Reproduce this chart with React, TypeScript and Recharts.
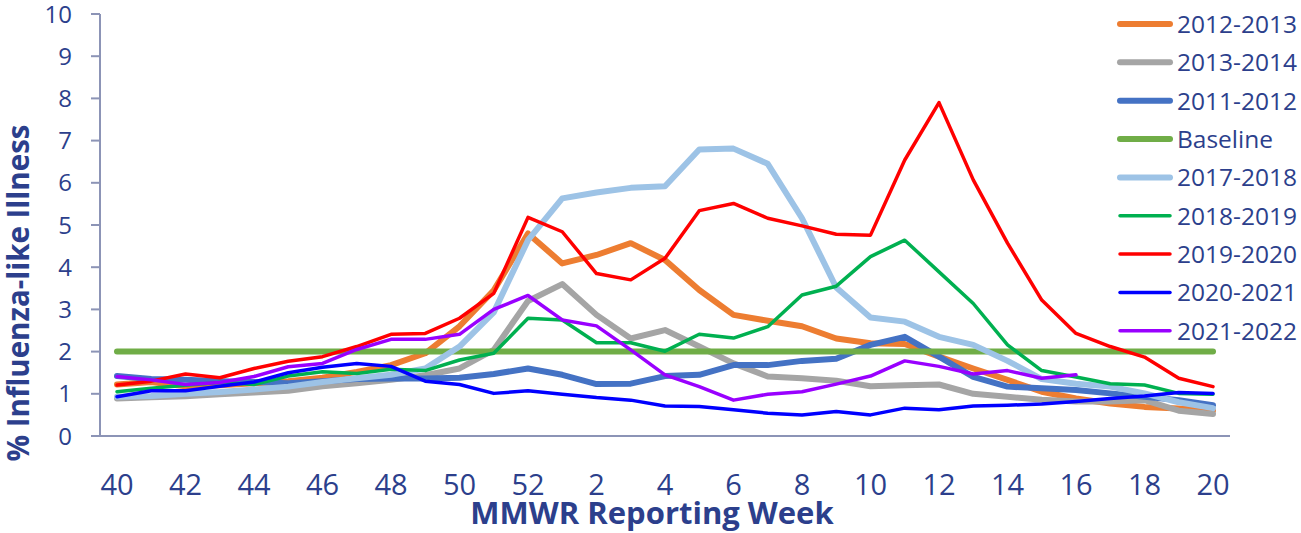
import React from 'react'
import { LineChart, Line, XAxis, YAxis, Label } from 'recharts'

const weeks = [
  '40', '41', '42', '43', '44', '45', '46', '47', '48', '49', '50', '51', '52',
  '1', '2', '3', '4', '5', '6', '7', '8', '9', '10', '11', '12', '13', '14', '15', '16', '17', '18', '19', '20',
]

const yTicks = [0, 1, 2, 3, 4, 5, 6, 7, 8, 9, 10]

const season2012_2013 = [1.22, 1.28, 1.18, 1.2, 1.25, 1.3, 1.38, 1.52, 1.68, 1.96, 2.6, 3.45, 4.8, 4.09, 4.29, 4.57, 4.17, 3.46, 2.87, 2.73, 2.6, 2.31, 2.2, 2.18, 1.88, 1.6, 1.33, 1.05, 0.89, 0.77, 0.69, 0.65, 0.6]
const season2013_2014 = [0.89, 0.92, 0.94, 0.99, 1.03, 1.07, 1.18, 1.25, 1.33, 1.44, 1.6, 2.04, 3.2, 3.6, 2.87, 2.31, 2.51, 2.12, 1.72, 1.41, 1.37, 1.31, 1.18, 1.2, 1.22, 1.0, 0.93, 0.86, 0.82, 0.82, 0.85, 0.6, 0.52]
const season2011_2012 = [1.42, 1.35, 1.33, 1.3, 1.28, 1.25, 1.3, 1.35, 1.36, 1.36, 1.38, 1.47, 1.6, 1.45, 1.23, 1.24, 1.42, 1.45, 1.68, 1.68, 1.78, 1.83, 2.16, 2.35, 1.88, 1.4, 1.17, 1.13, 1.09, 1.01, 0.93, 0.85, 0.73]
const baseline = [2, 2, 2, 2, 2, 2, 2, 2, 2, 2, 2, 2, 2, 2, 2, 2, 2, 2, 2, 2, 2, 2, 2, 2, 2, 2, 2, 2, 2, 2, 2, 2, 2]
const season2017_2018 = [0.93, 0.95, 1.0, 1.04, 1.1, 1.17, 1.28, 1.37, 1.45, 1.6, 2.12, 2.93, 4.64, 5.63, 5.77, 5.88, 5.92, 6.79, 6.81, 6.45, 5.16, 3.52, 2.81, 2.71, 2.35, 2.16, 1.78, 1.35, 1.24, 1.17, 1.01, 0.8, 0.66]
const season2018_2019 = [1.05, 1.13, 1.2, 1.27, 1.22, 1.42, 1.52, 1.48, 1.58, 1.55, 1.8, 1.96, 2.79, 2.75, 2.21, 2.21, 2.01, 2.41, 2.32, 2.59, 3.34, 3.55, 4.25, 4.64, 3.89, 3.14, 2.16, 1.55, 1.4, 1.24, 1.21, 1.01, 0.99]
const season2019_2020 = [1.21, 1.3, 1.47, 1.38, 1.6, 1.77, 1.88, 2.12, 2.41, 2.43, 2.79, 3.38, 5.18, 4.84, 3.85, 3.7, 4.21, 5.34, 5.51, 5.16, 4.98, 4.78, 4.76, 6.54, 7.9, 6.07, 4.57, 3.22, 2.43, 2.12, 1.87, 1.37, 1.17]
const season2020_2021 = [0.93, 1.07, 1.07, 1.18, 1.28, 1.5, 1.63, 1.72, 1.65, 1.3, 1.22, 1.01, 1.07, 0.99, 0.91, 0.85, 0.71, 0.7, 0.62, 0.54, 0.5, 0.58, 0.5, 0.66, 0.62, 0.71, 0.73, 0.76, 0.82, 0.89, 0.95, 1.03, 1.01]
const season2021_2022 = [1.41, 1.33, 1.22, 1.27, 1.41, 1.64, 1.72, 2.05, 2.29, 2.29, 2.41, 3.0, 3.33, 2.75, 2.61, 2.04, 1.45, 1.17, 0.85, 0.99, 1.05, 1.23, 1.42, 1.78, 1.65, 1.47, 1.55, 1.37, 1.45, null, null, null, null]

// legend order is also drawing order
const series = [
  { key: 's1213', name: '2012-2013', values: season2012_2013, color: '#ED7D31', width: 6 },
  { key: 's1314', name: '2013-2014', values: season2013_2014, color: '#A5A5A5', width: 6 },
  { key: 's1112', name: '2011-2012', values: season2011_2012, color: '#4472C4', width: 6 },
  { key: 'base', name: 'Baseline', values: baseline, color: '#70AD47', width: 6 },
  { key: 's1718', name: '2017-2018', values: season2017_2018, color: '#9DC3E6', width: 6 },
  { key: 's1819', name: '2018-2019', values: season2018_2019, color: '#00B050', width: 3.5 },
  { key: 's1920', name: '2019-2020', values: season2019_2020, color: '#FF0000', width: 3.5 },
  { key: 's2021', name: '2020-2021', values: season2020_2021, color: '#0000FF', width: 3.5 },
  { key: 's2122', name: '2021-2022', values: season2021_2022, color: '#9900FF', width: 3.5 },
]

const data = weeks.map((week, i) => {
  const row: Record<string, string | number | null> = { week }
  series.forEach((s) => {
    row[s.key] = s.values[i]
  })
  return row
})

const FONT = '"Open Sans", "Noto Sans", sans-serif'
const TEXT = '#2C3F8C'
const AXIS = '#8C94B6'

const XTick = ({ x, y, payload }: any) => (
  <text x={x} y={y + 59} textAnchor="middle" fill={TEXT} fontSize={29} fontFamily={FONT}>
    {payload.value}
  </text>
)

// legend drawn as an overlay so it doesn't eat plot space
const LegendBox = () => (
  <svg width={194} height={350} style={{ position: 'absolute', left: 1107, top: 5 }}>
    {series.map((s, i) => {
      const cy = 19 + i * 38.35
      return (
        <g key={s.key}>
          <line x1={13} x2={63} y1={cy} y2={cy} stroke={s.color} strokeWidth={s.width} strokeLinecap="round" />
          <text x={70} y={cy} dy="0.36em" fill={TEXT} fontSize={24.5} fontFamily={FONT}>
            {s.name}
          </text>
        </g>
      )
    })}
  </svg>
)

export default function App() {
  // pinned to the viewport so the body margin and scrollbars stay out of it
  return (
    <div style={{ position: 'fixed', left: 0, top: 0, width: 1301, height: 533, background: '#fff' }}>
      <LineChart width={1301} height={533} data={data} margin={{ top: 14, right: 71, left: 0, bottom: 0 }}>
        <XAxis
          dataKey="week"
          interval={1}
          tickLine={false}
          tickSize={0}
          tickMargin={0}
          height={97}
          padding={{ left: 17, right: 17 }}
          axisLine={{ stroke: AXIS, strokeWidth: 2 }}
          tick={<XTick />}
        >
          <Label
            content={() => (
              <text x={652} y={524} textAnchor="middle" fill={TEXT} fontSize={31} fontWeight={700} fontFamily={FONT}>
                MMWR Reporting Week
              </text>
            )}
          />
        </XAxis>
        <YAxis
          width={100}
          domain={[0, 10]}
          ticks={yTicks}
          interval={0}
          tickSize={9}
          tickMargin={19}
          axisLine={{ stroke: AXIS, strokeWidth: 2 }}
          tickLine={{ stroke: AXIS, strokeWidth: 2 }}
          tick={{ fill: TEXT, fontSize: 24, fontFamily: FONT }}
        >
          <Label
            content={() => (
              <text
                x={29}
                y={293}
                transform="rotate(-90, 29, 293)"
                textAnchor="middle"
                fill={TEXT}
                fontSize={29.5}
                fontWeight={700}
                fontFamily={FONT}
              >
                % Influenza-like Illness
              </text>
            )}
          />
        </YAxis>
        {series.map((s) => (
          <Line
            key={s.key}
            type="linear"
            dataKey={s.key}
            name={s.name}
            stroke={s.color}
            strokeWidth={s.width}
            strokeLinejoin="round"
            strokeLinecap="round"
            dot={false}
            activeDot={false}
            isAnimationActive={false}
          />
        ))}
      </LineChart>
      <LegendBox />
    </div>
  )
}
